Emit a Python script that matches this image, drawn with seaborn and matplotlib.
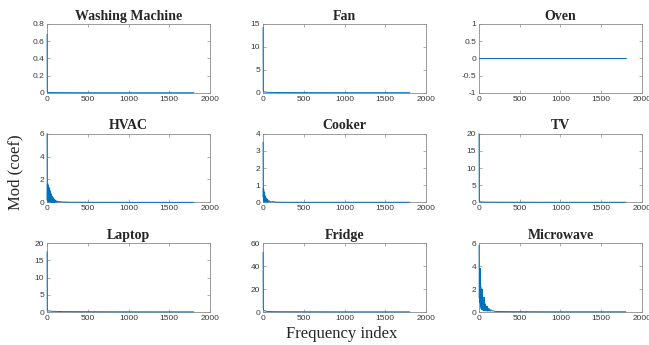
import matplotlib
matplotlib.use("Agg")
import matplotlib.pyplot as plt
from matplotlib.ticker import FuncFormatter
import seaborn as sns

# Spectrum magnitudes (1-based index, |coef|)
wm_idx = [1, 3, 5, 12, 50, 200, 600, 1000, 1400, 1800]
wm_val = [0.68, 0.03, 0.01, 0.006, 0.004, 0.003, 0.002, 0.002, 0.002, 0.002]

fan_idx = [1, 3, 5, 10, 20, 60, 200, 600, 1000, 1400, 1800]
fan_val = [14.2, 0.6, 0.4, 0.3, 0.2, 0.12, 0.08, 0.06, 0.05, 0.05, 0.05]

oven_idx = [1, 450, 900, 1350, 1800]
oven_val = [0, 0, 0, 0, 0]

hvac_idx = [1, 3, 5, 7, 9, 11, 14, 16, 19, 21, 24, 26, 29, 31, 34, 36, 39, 41,
            44, 46, 49, 51, 55, 58, 62, 65, 70, 73, 78, 81, 86, 90, 95, 100,
            108, 115, 125, 135, 150, 170, 200, 300, 600, 1000, 1400, 1800]
hvac_val = [6.0, 0.2, 1.6, 0.1, 1.65, 0.05, 1.5, 0.1, 1.45, 0.05, 1.3, 0.08,
            1.2, 0.05, 1.1, 0.06, 0.95, 0.04, 0.85, 0.05, 0.75, 0.03, 0.65,
            0.04, 0.55, 0.03, 0.45, 0.02, 0.38, 0.02, 0.3, 0.02, 0.25, 0.02,
            0.18, 0.02, 0.13, 0.02, 0.09, 0.05, 0.04, 0.02, 0.015, 0.01, 0.01, 0.01]

cooker_idx = [1, 3, 5, 7, 9, 11, 13, 15, 18, 21, 24, 27, 31, 35, 40, 45, 50,
              56, 62, 70, 80, 95, 120, 160, 250, 600, 1000, 1400, 1800]
cooker_val = [3.5, 0.3, 0.8, 0.1, 0.75, 0.05, 0.6, 0.08, 0.5, 0.04, 0.4, 0.05,
              0.33, 0.03, 0.25, 0.03, 0.2, 0.02, 0.14, 0.03, 0.09, 0.02, 0.05,
              0.02, 0.01, 0.01, 0.01, 0.01, 0.01]

tv_idx = [1, 3, 5, 12, 40, 150, 500, 1000, 1400, 1800]
tv_val = [20.0, 0.5, 0.3, 0.2, 0.12, 0.08, 0.06, 0.05, 0.05, 0.05]

laptop_idx = [1, 3, 5, 10, 20, 60, 200, 600, 1000, 1400, 1800]
laptop_val = [17.5, 0.6, 0.5, 0.4, 0.3, 0.2, 0.12, 0.08, 0.06, 0.05, 0.05]

fridge_idx = [1, 3, 6, 10, 15, 25, 40, 60, 100, 200, 600, 1000, 1400, 1800]
fridge_val = [52.0, 3.0, 2.0, 1.5, 1.2, 0.9, 0.7, 0.5, 0.35, 0.25, 0.2, 0.15, 0.15, 0.15]

micro_idx = [1, 4, 7, 10, 14, 18, 22, 26, 30, 34, 38, 42, 46, 50, 54, 58, 62,
             66, 70, 75, 80, 85, 90, 95, 100, 105, 110, 118, 125, 135, 145,
             160, 180, 200, 250, 400, 800, 1200, 1800]
micro_val = [5.8, 1.2, 3.6, 0.8, 3.8, 0.5, 2.2, 0.3, 1.6, 0.2, 2.0, 0.3, 1.0,
             0.15, 0.8, 0.1, 1.3, 0.2, 0.6, 0.1, 0.7, 0.15, 0.45, 0.1, 0.5,
             0.08, 0.35, 0.1, 0.3, 0.06, 0.2, 0.08, 0.1, 0.05, 0.04, 0.03,
             0.02, 0.02, 0.02]

titles = ["Washing Machine", "Fan", "Oven", "HVAC", "Cooker", "TV",
          "Laptop", "Fridge", "Microwave"]
series = [(wm_idx, wm_val), (fan_idx, fan_val), (oven_idx, oven_val),
          (hvac_idx, hvac_val), (cooker_idx, cooker_val), (tv_idx, tv_val),
          (laptop_idx, laptop_val), (fridge_idx, fridge_val), (micro_idx, micro_val)]
ylims = [(0, 0.8), (0, 15), (-1, 1), (0, 6), (0, 4), (0, 20), (0, 20), (0, 60), (0, 6)]
yticks = [[0, 0.2, 0.4, 0.6, 0.8], [0, 5, 10, 15], [-1, -0.5, 0, 0.5, 1],
          [0, 2, 4, 6], [0, 1, 2, 3, 4], [0, 5, 10, 15, 20], [0, 5, 10, 15, 20],
          [0, 20, 40, 60], [0, 2, 4, 6]]
xticks = [0, 500, 1000, 1500, 2000]

sns.set_theme(style="white")
plt.rcParams['font.family'] = ['Liberation Sans', 'DejaVu Sans']
plt.rcParams['axes.unicode_minus'] = False

line_color = "#0072BD"
edge = "#8c8c8c"

fig, axes = plt.subplots(3, 3, figsize=(6.49, 3.45), dpi=100)
fig.subplots_adjust(left=47 / 649, right=642 / 649, top=1 - 24 / 345,
                    bottom=1 - 312 / 345, wspace=0.325, hspace=0.59)

for ax, title, (xs, ys), yl, yt in zip(axes.flat, titles, series, ylims, yticks):
    for s in ax.spines.values():
        s.set_color(edge)
        s.set_linewidth(0.6)
        s.set_visible(True)
        s.set_zorder(1)
    sns.lineplot(x=xs, y=ys, ax=ax, color=line_color, linewidth=0.7,
                 estimator=None, sort=False)
    # let the first-bin spike sit on top of the left spine, as in the original
    for ln in ax.lines:
        ln.set_clip_on(False)
        ln.set_zorder(3)
    ax.set_xlim(0, 2000)
    ax.set_ylim(*yl)
    ax.set_xticks(xticks)
    ax.set_yticks(yt)
    ax.xaxis.set_major_formatter(FuncFormatter(lambda v, p: "%g" % v))
    ax.yaxis.set_major_formatter(FuncFormatter(lambda v, p: "%g" % v))
    ax.tick_params(direction="in", length=2, width=0.5, color=edge,
                   labelsize=6, labelcolor="#3a3a3a", pad=2,
                   top=True, right=True, bottom=True, left=True)
    ax.set_title(title, family="Liberation Serif", fontweight="bold",
                 fontsize=10, pad=3)
    ax.set_xlabel("")
    ax.set_ylabel("")

fig.text(0.012, 0.5, "Mod (coef)", rotation=90, va="center", ha="left",
         family="Liberation Serif", fontsize=12)
fig.text(0.527, 0.01, "Frequency index", ha="center", va="bottom",
         family="Liberation Serif", fontsize=12)

fig.savefig("out.png", dpi=100)
